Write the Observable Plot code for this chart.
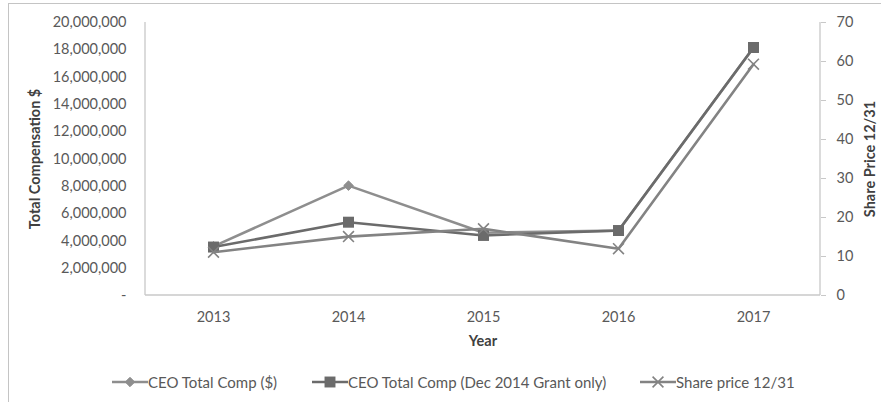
<!DOCTYPE html>
<html><head><meta charset="utf-8">
<script src="https://cdn.jsdelivr.net/npm/d3@7"></script>
<script src="https://cdn.jsdelivr.net/npm/@observablehq/plot@0.6"></script>
<style>
html,body{margin:0;padding:0;background:#fff;overflow:hidden;}
body{font-family:Lato,"Open Sans",sans-serif;}
#frame{position:absolute;left:8px;top:3px;width:900px;height:430px;border:1px solid #c4c4c4;box-sizing:border-box;pointer-events:none;}
#chart{position:absolute;left:0;top:0;}
#chart svg{font-family:Lato,"Open Sans",sans-serif;}
g[aria-label$="axis label"] text{font-weight:bold;fill:#404040;}
#legend{position:absolute;top:371px;left:0;width:881px;height:22px;font-size:15px;color:#595959;}
.item{position:absolute;top:0;display:flex;align-items:center;height:22px;white-space:nowrap;}
</style>
</head><body>
<div id="chart"></div>
<div id="legend"></div>
<div id="frame"></div>
<script>
const years = ["2013", "2014", "2015", "2016", "2017"];
const ceoTotalComp = [3600000, 8050000, 4600000, 4750000, 18150000];
const ceoCompDec2014Grant = [3550000, 5370000, 4400000, 4760000, 18170000];
const sharePrice = [11.1, 15.1, 17.1, 12.0, 59.3];
const compTicks = [0, 2000000, 4000000, 6000000, 8000000, 10000000, 12000000, 14000000, 16000000, 18000000, 20000000];
const priceTicks = [0, 10, 20, 30, 40, 50, 60, 70];
const seriesNames = ["CEO Total Comp ($)", "CEO Total Comp (Dec 2014 Grant only)", "Share price 12/31"];
const colors = ["#8e8e8e", "#6b6b6b", "#838383"];

const compMax = 20000000, priceMax = 70;
const k = compMax / priceMax; // maps share price onto compensation axis

const s1 = years.map((y, i) => ({year: y, v: ceoTotalComp[i]}));
const s2 = years.map((y, i) => ({year: y, v: ceoCompDec2014Grant[i]}));
const s3 = years.map((y, i) => ({year: y, v: sharePrice[i] * k}));

const axisLines = (index, scales, values, dims) => {
  const g = d3.create("svg:g").attr("stroke", "#c8c8c8").attr("stroke-width", 1.3);
  const l = dims.marginLeft, r = dims.width - dims.marginRight;
  const t = dims.marginTop, b = dims.height - dims.marginBottom;
  g.append("line").attr("x1", l).attr("x2", l).attr("y1", t).attr("y2", b);
  g.append("line").attr("x1", r).attr("x2", r).attr("y1", t).attr("y2", b);
  g.append("line").attr("x1", l).attr("x2", r).attr("y1", b).attr("y2", b);
  return g.node();
};

const chart = Plot.plot({
  width: 881,
  height: 360,
  marginTop: 22,
  marginBottom: 65,
  marginLeft: 145,
  marginRight: 61,
  style: {fontSize: "14.5px", color: "#595959", background: "transparent"},
  x: {type: "point", domain: years, padding: 0.5},
  y: {domain: [0, compMax]},
  marks: [
    axisLines,
    Plot.axisX({tickSize: 0, tickPadding: 16, label: "Year", labelAnchor: "center", labelOffset: 50, labelArrow: "none"}),
    Plot.axisY({anchor: "left", ticks: compTicks, tickSize: 0, tickPadding: 19,
      tickFormat: v => v === 0 ? "-" : d3.format(",")(v),
      label: "Total Compensation $", labelAnchor: "center", labelOffset: 116, labelArrow: "none"}),
    Plot.axisY({anchor: "right", ticks: priceTicks.map(p => p * k), tickSize: 5, tickPadding: 11,
      tickFormat: v => String(Math.round(v / k)), stroke: "#c8c8c8",
      label: "Share Price 12/31", labelAnchor: "center", labelOffset: 54, labelArrow: "none"}),
    Plot.line(s1, {x: "year", y: "v", stroke: colors[0], strokeWidth: 2.6}),
    Plot.dot(s1, {x: "year", y: "v", symbol: "diamond2", r: 4.3, fill: colors[0], stroke: colors[0], strokeWidth: 1}),
    Plot.line(s2, {x: "year", y: "v", stroke: colors[1], strokeWidth: 2.6}),
    Plot.dot(s2, {x: "year", y: "v", symbol: "square", r: 6.2, fill: colors[1], stroke: "none"}),
    Plot.line(s3, {x: "year", y: "v", stroke: colors[2], strokeWidth: 2.6}),
    Plot.dot(s3, {x: "year", y: "v", symbol: "times", r: 5, fill: "none", stroke: colors[2], strokeWidth: 1.6})
  ]
});
// remove any label arrows (older Plot versions)
d3.select(chart).selectAll('g[aria-label$="axis label"] text').each(function() {
  this.textContent = this.textContent.replace(/\s*[↑↓→←]\s*/g, "");
});
document.getElementById("chart").appendChild(chart);

// legend
const legend = d3.select("#legend");
const lefts = [112, 312, 640];
seriesNames.forEach((name, i) => {
  const item = legend.append("div").attr("class", "item").style("left", lefts[i] + "px");
  const svg = item.append("svg").attr("width", 36).attr("height", 22);
  svg.append("line").attr("x1", 0).attr("x2", 36).attr("y1", 11).attr("y2", 11)
    .attr("stroke", colors[i]).attr("stroke-width", 2.6);
  const sym = i === 0 ? d3.symbolDiamond2 : i === 1 ? d3.symbolSquare : d3.symbolTimes;
  const size = i === 0 ? Math.PI * 18 : i === 1 ? Math.PI * 38 : Math.PI * 25;
  const p = svg.append("path").attr("transform", "translate(18,11)").attr("d", d3.symbol(sym, size)());
  if (i === 0) p.attr("fill", colors[0]).attr("stroke", colors[0]);
  else if (i === 1) p.attr("fill", colors[1]);
  else p.attr("fill", "none").attr("stroke", colors[2]).attr("stroke-width", 1.6);
  item.append("span").text(name);
});
</script>
</body></html>
